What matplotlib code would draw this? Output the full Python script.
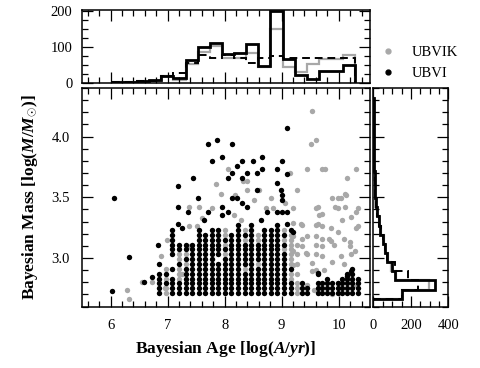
import matplotlib
matplotlib.use("Agg")
import matplotlib.pyplot as plt
import numpy as np
from matplotlib.lines import Line2D
from matplotlib.ticker import MultipleLocator

plt.rcParams["font.family"] = ["Liberation Serif", "DejaVu Serif"]
plt.rcParams["mathtext.fontset"] = "custom"
plt.rcParams["mathtext.rm"] = "Liberation Serif:bold"
plt.rcParams["mathtext.it"] = "Liberation Serif:bold:italic"

GRAY = "#a8a8a8"

# mass rows of the fitting grid (dense block)
mass_rows = [2.71, 2.75, 2.79, 2.83, 2.87, 2.91, 2.95, 2.99, 3.03, 3.07,
             3.11, 3.15, 3.19, 3.23, 3.27]

# UBVI: dense columns (age) and which mass rows are filled
ubvi_col_age = [6.855, 6.97, 7.085, 7.20, 7.315, 7.43, 7.545, 7.66, 7.775,
                7.89, 8.005, 8.12, 8.235, 8.35, 8.465, 8.58, 8.695, 8.81,
                8.925, 9.04, 9.155,
                9.36, 9.45, 9.63, 9.71, 9.80, 9.89, 9.98, 10.06, 10.15,
                10.24, 10.33]
ubvi_col_rows = [
    [0, 1, 2, 3, 4, 6], [2, 4], [0, 1, 2, 3, 5, 8, 9, 10, 11, 12, 13],
    [0, 1, 2, 6, 9, 10], [0, 1, 2, 3, 4, 5, 7, 9, 10],
    [0, 1, 2, 3, 4, 5, 6, 7, 8, 9, 10],
    [0, 1, 2, 3, 4, 5, 6, 7, 8, 9, 10, 11, 12, 13],
    [0, 1, 2, 3, 4, 5, 6, 7, 8, 9, 10, 11, 12],
    [0, 1, 2, 3, 4, 5, 6, 7, 8, 9, 10, 11, 12, 13],
    [0, 1, 2, 3, 4, 5, 6, 8, 9, 10, 11, 12, 13],
    [0, 1, 2, 3, 4, 5, 6, 7, 9, 11],
    [0, 1, 2, 3, 4, 5, 6, 7, 8, 9, 10, 11, 12],
    [0, 1, 2, 3, 4, 5, 6, 7, 8, 9, 10, 11, 12, 13, 14],
    [0, 1, 2, 3, 4, 6, 7, 8, 9, 10, 12],
    [0, 1, 2, 3, 4, 5, 6, 7, 8, 9, 10, 11, 12, 13, 14],
    [0, 1, 2, 3, 4, 5, 7, 8, 9, 10],
    [0, 1, 2, 3, 4, 5, 6, 7, 8, 9, 10, 11, 12, 13],
    [0, 1, 2, 3, 4, 5, 6, 7, 8, 9, 10, 11, 12, 13],
    [0, 1, 2, 3, 4, 5, 6, 7, 8, 9, 10, 11, 12, 13, 14],
    [0, 1, 2, 3, 4, 5, 6, 7, 8, 10, 12],
    [0, 1, 2, 5, 13],
    [0, 1, 2], [0, 1], [0, 1, 2, 4], [0, 1, 2], [0, 1, 2, 3], [0, 1, 2],
    [0, 1, 2], [0, 1, 2, 3], [0, 1, 2, 3, 4], [0, 1, 2, 3, 4, 5],
    [0, 1, 2, 3],
]
# UBVI: isolated points (age, mass)
ubvi_sparse = [
    (6.03, 2.725), (6.06, 3.49), (6.32, 3.005), (6.58, 2.80), (6.73, 2.84),
    (6.84, 3.11), (7.18, 3.59), (7.45, 3.66), (7.70, 3.94), (7.87, 3.97),
    (8.13, 3.94), (7.78, 3.80), (7.96, 3.83), (8.22, 3.76), (8.31, 3.80),
    (8.49, 3.80), (8.66, 3.835), (9.01, 3.80), (9.10, 4.07), (8.05, 3.66),
    (8.13, 3.70), (8.31, 3.66), (8.40, 3.70), (8.57, 3.70), (8.66, 3.73),
    (8.92, 3.73), (9.10, 3.69), (8.92, 3.62), (8.57, 3.56), (8.98, 3.56),
    (9.01, 3.52), (9.01, 3.48), (8.13, 3.49), (8.22, 3.49), (8.31, 3.45),
    (8.40, 3.42), (7.53, 3.49), (7.18, 3.42), (7.35, 3.38), (7.70, 3.38),
    (7.96, 3.42), (7.96, 3.35), (8.05, 3.38), (8.75, 3.38), (8.92, 3.38),
    (9.01, 3.38), (9.10, 3.38), (7.64, 3.31), (8.63, 3.31), (7.18, 3.28),
    (7.25, 3.25), (9.10, 3.28), (9.20, 3.21), (9.63, 2.88), (10.15, 2.85),
    (10.21, 2.89),
]

# UBVIK: points showing through gaps of the dense block
ubvik_col_age = [6.97, 7.20, 7.315, 8.005, 8.35, 8.58, 9.04, 9.155, 9.27]
ubvik_col_rows = [
    [0, 1, 3, 5], [3, 4, 5, 7, 8], [6, 8], [8, 10, 12, 13], [5, 11, 13],
    [6, 11, 12], [9, 11, 13], [3, 4, 6, 7, 8, 9, 10, 11, 12],
    [0, 1, 2, 4, 6, 8, 10],
]
ubvik_sparse = [
    (9.54, 4.21), (9.52, 3.94), (9.61, 3.97), (9.45, 3.73), (9.70, 3.73),
    (9.76, 3.73), (10.30, 3.73), (10.14, 3.66), (9.26, 3.56), (9.14, 3.70),
    (8.05, 3.73), (8.40, 3.63), (9.89, 3.49), (9.98, 3.49), (10.11, 3.53),
    (9.93, 3.42), (9.63, 3.42), (10.11, 3.42), (10.30, 3.38), (9.65, 3.35),
    (9.33, 3.28), (9.63, 3.28), (9.86, 3.25), (10.30, 3.25), (9.20, 3.41),
    (9.20, 3.29), (9.20, 3.18), (9.36, 3.27), (9.36, 3.16), (9.36, 3.10),
    (9.42, 3.04), (9.45, 3.18), (9.45, 3.03), (9.20, 3.06), (9.20, 2.945),
    (9.54, 2.96), (9.60, 3.41), (9.71, 3.36), (9.61, 3.27), (9.71, 3.26),
    (9.61, 3.18), (9.71, 3.16), (9.61, 3.11), (9.71, 3.10), (9.61, 3.03),
    (9.71, 3.02), (9.83, 3.16), (9.87, 3.14), (9.92, 3.11), (10.04, 3.49),
    (10.12, 3.52), (9.98, 3.41), (10.21, 3.34), (10.33, 3.41), (10.33, 3.26),
    (10.06, 3.31), (9.98, 3.21), (10.09, 3.16), (10.20, 3.13), (10.20, 3.10),
    (10.22, 3.03), (10.29, 3.06), (10.04, 3.02), (9.89, 2.97), (10.09, 2.95),
    (9.74, 2.90), (9.60, 2.90), (9.54, 2.89), (9.89, 2.70), (9.56, 2.74),
    (9.45, 2.78), (9.98, 2.79), (10.27, 2.78),
    (6.29, 2.74), (6.32, 2.66), (6.55, 2.80), (6.73, 2.80), (6.99, 3.15),
    (7.25, 2.87), (7.39, 3.10), (7.37, 3.42), (7.55, 3.42), (7.61, 3.33),
    (7.37, 3.26), (7.52, 3.26), (7.93, 3.53), (7.84, 3.61), (8.19, 3.52),
    (8.33, 3.63), (8.40, 3.56), (8.72, 3.41), (8.85, 3.41), (7.78, 3.41),
    (8.51, 3.48), (8.81, 3.49), (8.60, 3.56), (8.28, 3.31), (8.17, 3.35),
    (9.05, 3.45), (6.88, 3.02), (6.95, 2.75),
]

# age histograms (top)
age_edges = np.linspace(6.04, 10.29, 21)
age_ubvi = [2, 3, 4, 8, 20, 12, 63, 98, 110, 80, 82, 107, 46, 200, 67,
            23, 10, 33, 33, 49]
age_ubvik = [2, 3, 4, 6, 18, 8, 53, 85, 103, 70, 70, 84, 44, 148, 44,
             30, 51, 65, 65, 77]
age_other = [2, 3, 4, 6, 20, 27, 55, 77, 68, 76, 70, 55, 70, 74, 68,
             68, 68, 68, 68, 68]

# mass histograms (right)
mass_edges = np.linspace(2.665, 4.319, 23)
mass_ubvi = [155, 329, 116, 98, 71, 62, 53, 36, 31, 18, 14, 9, 7, 6, 5, 4,
             3, 2, 2, 1, 1, 1]
mass_ubvik = [150, 299, 120, 95, 80, 60, 58, 40, 28, 20, 10, 8, 6, 5, 4, 3,
              2, 2, 1, 1, 1, 1]
mass_other = [150, 240, 187, 116, 75, 62, 50, 38, 30, 20, 15, 9, 7, 6, 5, 4,
              3, 2, 1, 1, 1, 0]


def grid_points(col_age, col_rows, sparse):
    ages = [a for a, rows in zip(col_age, col_rows) for _ in rows]
    masses = [mass_rows[j] for rows in col_rows for j in rows]
    ages += [p[0] for p in sparse]
    masses += [p[1] for p in sparse]
    return np.array(ages), np.array(masses)


bi_age, bi_mass = grid_points(ubvi_col_age, ubvi_col_rows, ubvi_sparse)
bk_age, bk_mass = grid_points(ubvik_col_age, ubvik_col_rows, ubvik_sparse)


def style(ax, label_size=10.5):
    ax.tick_params(which="both", direction="in", top=True, right=True,
                   width=0.9, labelsize=label_size)
    ax.tick_params(which="major", length=8)
    ax.tick_params(which="minor", length=4)
    for s in ax.spines.values():
        s.set_linewidth(1.1)
        s.set_visible(True)


fig = plt.figure(figsize=(4.8, 3.68), dpi=100)
ax = fig.add_axes([0.171, 0.167, 0.600, 0.594])
ax_top = fig.add_axes([0.171, 0.775, 0.600, 0.198], sharex=ax)
ax_r = fig.add_axes([0.778, 0.167, 0.156, 0.594], sharey=ax)

# scatter
ax.scatter(bk_age, bk_mass, s=15, c=GRAY, marker="o", linewidths=0)
ax.scatter(bi_age, bi_mass, s=15, c="black", marker="o", linewidths=0)
ax.set_xlim(5.5, 10.55)
ax.set_ylim(2.6, 4.4)
ax.xaxis.set_major_locator(MultipleLocator(1))
ax.xaxis.set_minor_locator(MultipleLocator(0.2))
ax.yaxis.set_major_locator(MultipleLocator(0.5))
ax.yaxis.set_minor_locator(MultipleLocator(0.1))
ax.set_yticks([3.0, 3.5, 4.0])
style(ax)
ax.tick_params(axis="x", pad=9)
ax.tick_params(axis="y", pad=9)
ax.set_xlabel(r"Bayesian Age [log($A/yr$)]", fontsize=12.5,
              fontweight="bold", labelpad=5)
ax.set_ylabel(r"Bayesian Mass [log($M/M_{\odot}$)]", fontsize=12.5,
              fontweight="bold", labelpad=8)

# top histogram
ax_top.stairs(age_ubvik, age_edges, color=GRAY, lw=1.6)
ax_top.stairs(age_ubvi, age_edges, color="black", lw=2.0)
ax_top.stairs(age_other, age_edges, color="black", lw=1.4,
              linestyle=(0, (4, 2.5)))
ax_top.set_ylim(0, 202)
ax_top.set_yticks([0, 100, 200])
ax_top.yaxis.set_minor_locator(MultipleLocator(25))
style(ax_top)
ax_top.tick_params(axis="x", labelbottom=False)
ax_top.tick_params(axis="y", pad=7)

# right histogram
ax_r.stairs(mass_ubvik, mass_edges, color=GRAY, lw=1.6,
            orientation="horizontal")
ax_r.stairs(mass_ubvi, mass_edges, color="black", lw=2.0,
            orientation="horizontal")
ax_r.stairs(mass_other, mass_edges, color="black", lw=1.4,
            linestyle=(0, (4, 2.5)), orientation="horizontal")
ax_r.set_xlim(0, 400)
ax_r.set_xticks([0, 200, 400])
ax_r.xaxis.set_minor_locator(MultipleLocator(50))
style(ax_r)
ax_r.tick_params(axis="y", labelleft=False)
ax_r.tick_params(axis="x", pad=9)

handles = [Line2D([], [], ls="", marker="o", ms=3.5, color=GRAY),
           Line2D([], [], ls="", marker="o", ms=3.5, color="black")]
fig.legend(handles, ["UBVIK", "UBVI"], loc="upper left",
           bbox_to_anchor=(0.782, 0.895), frameon=False, fontsize=10.5,
           handlelength=0.8, handletextpad=1.2, labelspacing=0.5,
           borderpad=0)

fig.savefig("out.png", dpi=100)
